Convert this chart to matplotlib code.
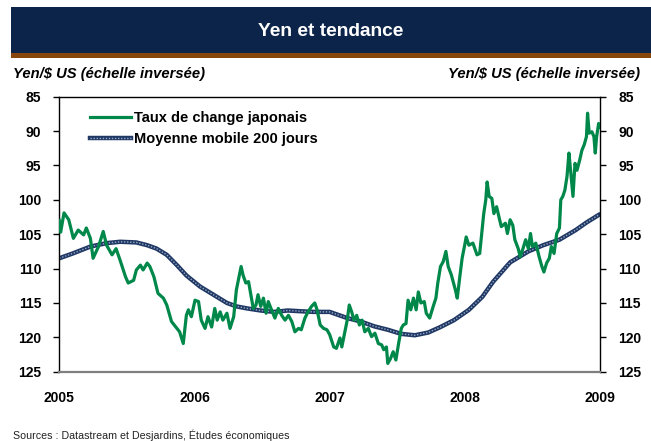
import matplotlib
matplotlib.use("Agg")
import matplotlib.pyplot as plt
from matplotlib.patches import Rectangle
from matplotlib.lines import Line2D

plt.rcParams['font.family'] = ['Liberation Sans', 'DejaVu Sans']

# ---- data (decimal years, yen per US$) ----
fx_dates = [2005.00, 2005.01, 2005.035, 2005.07, 2005.104, 2005.14, 2005.18, 2005.20, 2005.23, 2005.25,
            2005.29, 2005.325, 2005.35, 2005.39, 2005.42, 2005.45, 2005.49, 2005.51, 2005.55, 2005.57,
            2005.60, 2005.62, 2005.65, 2005.67, 2005.70, 2005.73, 2005.77, 2005.795, 2005.83, 2005.87,
            2005.89, 2005.917, 2005.94, 2005.955, 2005.977, 2006.004, 2006.03, 2006.05, 2006.078, 2006.10,
            2006.127, 2006.15, 2006.168, 2006.19, 2006.21, 2006.24, 2006.263, 2006.29, 2006.31, 2006.33,
            2006.345, 2006.36, 2006.38, 2006.40, 2006.415, 2006.435, 2006.455, 2006.47, 2006.49, 2006.51,
            2006.53, 2006.546, 2006.57, 2006.595, 2006.62, 2006.645, 2006.67, 2006.695, 2006.72, 2006.743,
            2006.77, 2006.79, 2006.817, 2006.84, 2006.866, 2006.89, 2006.907, 2006.93, 2006.955, 2006.98,
            2007.00, 2007.03, 2007.05, 2007.076, 2007.09, 2007.113, 2007.13, 2007.145, 2007.163, 2007.18,
            2007.20, 2007.22, 2007.24, 2007.26, 2007.286, 2007.31, 2007.335, 2007.36, 2007.385, 2007.40,
            2007.42, 2007.43, 2007.45, 2007.47, 2007.49, 2007.51, 2007.53, 2007.545, 2007.565, 2007.58,
            2007.60, 2007.62, 2007.64, 2007.656, 2007.675, 2007.70, 2007.715, 2007.74, 2007.766, 2007.786,
            2007.80, 2007.82, 2007.84, 2007.86, 2007.877, 2007.90, 2007.93, 2007.944, 2007.964, 2007.98,
            2008.00, 2008.01, 2008.03, 2008.06, 2008.09, 2008.11, 2008.125, 2008.14, 2008.155, 2008.165,
            2008.18, 2008.20, 2008.215, 2008.235, 2008.255, 2008.27, 2008.30, 2008.315, 2008.335, 2008.355,
            2008.37, 2008.395, 2008.41, 2008.43, 2008.45, 2008.47, 2008.486, 2008.50, 2008.525, 2008.55,
            2008.57, 2008.585, 2008.605, 2008.625, 2008.64, 2008.66, 2008.68, 2008.70, 2008.71, 2008.725,
            2008.74, 2008.756, 2008.77, 2008.78, 2008.80, 2008.815, 2008.83, 2008.85, 2008.866, 2008.883,
            2008.90, 2008.908, 2008.92, 2008.94, 2008.955, 2008.965, 2008.975, 2008.99, 2009.00]
fx_values = [103.0, 104.7, 101.9, 102.9, 105.6, 104.4, 105.1, 104.1, 105.6, 108.5,
             106.8, 104.6, 106.6, 108.0, 107.1, 108.8, 111.2, 112.1, 111.7, 110.2,
             109.5, 110.2, 109.2, 109.7, 111.2, 113.6, 114.3, 115.3, 117.7, 118.7,
             119.2, 120.9, 116.8, 116.0, 117.0, 114.6, 114.8, 117.5, 118.7, 117.0,
             118.5, 115.8, 117.5, 116.3, 117.5, 116.5, 118.7, 117.0, 113.1, 111.2,
             109.7, 111.0, 112.1, 111.9, 113.6, 115.8, 115.3, 113.8, 115.5, 114.3,
             116.5, 114.8, 116.0, 117.2, 115.8, 116.8, 117.5, 116.8, 117.7, 119.2,
             118.7, 118.9, 117.2, 116.3, 115.5, 115.0, 116.0, 118.2, 118.7, 118.9,
             119.6, 121.4, 121.6, 120.1, 121.4, 119.2, 117.5, 115.3, 116.3, 117.5,
             116.8, 118.2, 117.5, 119.2, 118.7, 119.9, 119.4, 120.9, 121.1, 121.8,
             121.4, 123.8, 123.1, 122.1, 123.3, 120.9, 118.7, 118.2, 118.0, 114.6,
             116.0, 114.3, 116.0, 113.4, 115.0, 114.8, 116.5, 117.2, 115.5, 114.3,
             112.1, 109.7, 109.0, 107.5, 109.7, 110.9, 113.1, 114.3, 111.0, 108.5,
             106.5, 105.4, 106.6, 106.3, 108.0, 107.8, 104.9, 102.0, 100.0, 97.4,
             99.5, 99.8, 102.0, 101.0, 102.7, 103.9, 103.4, 104.9, 102.9, 103.7,
             105.8, 107.1, 108.3, 107.1, 105.8, 107.1, 104.9, 106.8, 106.3, 108.3,
             109.7, 110.5, 109.2, 108.5, 106.8, 107.8, 104.9, 104.1, 100.0, 99.5,
             98.6, 96.6, 93.2, 95.2, 99.5, 94.7, 95.7, 94.2, 92.8, 92.0,
             90.8, 87.4, 90.3, 90.1, 90.8, 93.2, 90.8, 88.9, 89.4]

ma_dates = [2005.00, 2005.10, 2005.23, 2005.35, 2005.45, 2005.57, 2005.65, 2005.72, 2005.795, 2005.87,
            2005.94, 2006.04, 2006.14, 2006.24, 2006.31, 2006.39, 2006.49, 2006.59, 2006.69, 2006.78,
            2006.88, 2007.00, 2007.13, 2007.23, 2007.33, 2007.43, 2007.53, 2007.63, 2007.73, 2007.82,
            2007.92, 2008.03, 2008.13, 2008.21, 2008.335, 2008.47, 2008.58, 2008.70, 2008.82, 2008.90,
            2008.99]
ma_values = [108.5, 107.8, 106.8, 106.3, 106.1, 106.2, 106.6, 107.1, 108.0, 109.5,
             111.0, 112.6, 113.8, 115.0, 115.5, 115.8, 116.1, 116.3, 116.1, 116.2,
             116.3, 116.3, 117.2, 117.7, 118.4, 118.9, 119.5, 119.7, 119.3, 118.5,
             117.5, 116.0, 114.1, 111.9, 109.1, 107.5, 106.6, 105.8, 104.4, 103.3,
             102.2]

year_ticks = [2005, 2006, 2007, 2008, 2009]
y_ticks = [85, 90, 95, 100, 105, 110, 115, 120, 125]

title = "Yen et tendance"
axis_label = "Yen/$ US (échelle inversée)"
series_names = ["Taux de change japonais", "Moyenne mobile 200 jours"]
source = "Sources : Datastream et Desjardins, Études économiques"

NAVY = '#0c2449'
BROWN = '#86460c'
GREEN = '#00884a'
MA_COL = '#1f3864'
MA_DOT = '#9aa8c4'

W, H = 651, 441
fig = plt.figure(figsize=(W / 100, H / 100), dpi=100)
fig.patch.set_facecolor('white')

def fx(px):
    return px / W

def fy(py):
    return 1 - py / H

# title band
fig.patches.append(Rectangle((fx(11), fy(53)), 1 - fx(11), fy(7) - fy(53),
                             transform=fig.transFigure, facecolor=NAVY, edgecolor='none'))
fig.patches.append(Rectangle((fx(11), fy(58)), 1 - fx(11), fy(53) - fy(58),
                             transform=fig.transFigure, facecolor=BROWN, edgecolor='none'))
fig.text(fx(331), fy(31), title, color='white', fontsize=13.8, fontweight='bold',
         ha='center', va='center')

ax = fig.add_axes([fx(59.3), fy(371.7), fx(600) - fx(59.3), fy(96.7) - fy(371.7)])

ax.plot(fx_dates, fx_values, color=GREEN, lw=2.3, solid_joinstyle='round', zorder=3)
ax.plot(ma_dates, ma_values, color=MA_COL, lw=3.2, zorder=2)
ax.plot(ma_dates, ma_values, color=MA_DOT, lw=1.0, linestyle=(0, (1, 1.2)), zorder=2)

h1 = Line2D([], [], color=GREEN, lw=2.3)
h2a = Line2D([], [], color=MA_COL, lw=3.2)
h2b = Line2D([], [], color=MA_DOT, lw=1.0, linestyle=(0, (1, 1.2)))

ax.set_xlim(2005, 2009)
ax.set_ylim(125, 85)
ax.set_xticks(year_ticks)
ax.set_xticklabels([str(y) for y in year_ticks], fontsize=10, fontweight='bold')
ax.set_yticks(y_ticks)
ax.set_yticklabels([str(v) for v in y_ticks], fontsize=10, fontweight='bold')
ax.tick_params(axis='x', length=0, pad=14)
ax.tick_params(axis='y', direction='out', length=4, width=1, left=True, right=True,
               labelleft=True, labelright=True, pad=9)
for side in ['top', 'left', 'right']:
    ax.spines[side].set_color('black')
    ax.spines[side].set_linewidth(1.0)
ax.spines['bottom'].set_color('#7f7f7f')
ax.spines['bottom'].set_linewidth(1.6)

ax.legend([h1, (h2a, h2b)], series_names, loc='upper left', frameon=False,
          bbox_to_anchor=(0.032, 0.995), handlelength=2.85, handletextpad=0.2,
          labelspacing=0.5, prop={'weight': 'bold', 'size': 10.5})

fig.text(fx(13), fy(74), axis_label, fontsize=10.6, fontweight='bold', style='italic',
         ha='left', va='center')
fig.text(fx(640), fy(74), axis_label, fontsize=10.6, fontweight='bold', style='italic',
         ha='right', va='center')
fig.text(fx(13), fy(435), source, fontsize=7.7, ha='left', va='center', color='#222222')

fig.savefig('out.png', dpi=100)
